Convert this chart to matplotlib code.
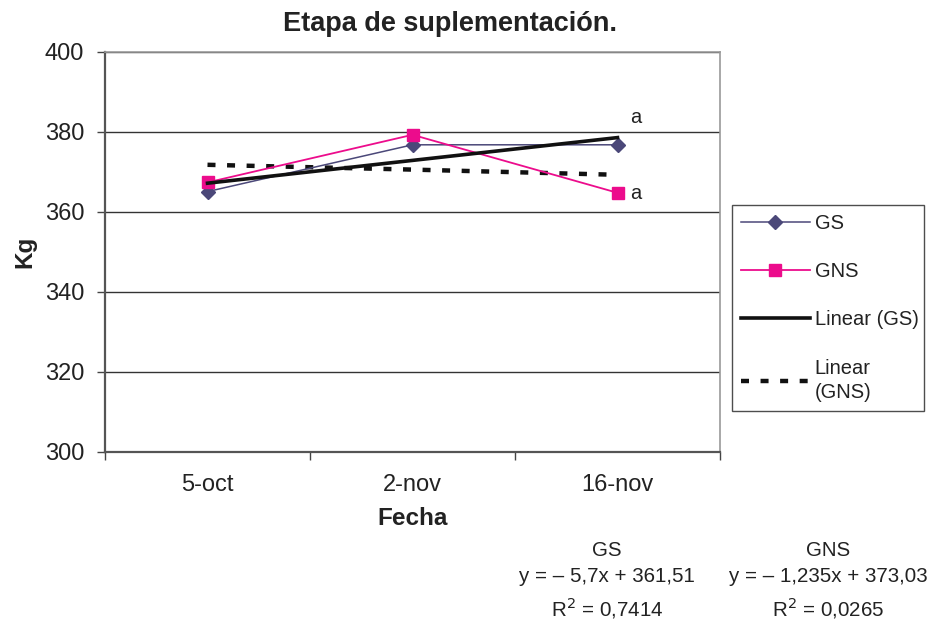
import matplotlib.pyplot as plt
from matplotlib.ticker import FixedLocator, NullFormatter

plt.rcParams['font.family'] = ['Liberation Sans', 'DejaVu Sans']

# data
fechas = ['5-oct', '2-nov', '16-nov']
gs = [365.1, 376.8, 376.8]
gns = [367.4, 379.3, 364.8]
linear_gs = [367.2, 372.9, 378.6]
linear_gns = [371.8, 370.6, 369.3]
y_ticks = [300, 320, 340, 360, 380, 400]

x = [1, 2, 3]

fig = plt.figure(figsize=(9.3, 6.21), dpi=100)
ax = fig.add_axes([105 / 930, 1 - 452 / 621, 615 / 930, 400 / 621])

ax.plot(x, gs, color='#4b4879', lw=1.1, marker='D', markersize=7,
        label='GS', zorder=4)
ax.plot(x, gns, color='#ec0c8c', lw=1.3, marker='s', markersize=9,
        label='GNS', zorder=4)
ax.plot(x, linear_gs, color='#111111', lw=2.6, label='Linear (GS)', zorder=5)
ax.plot(x, linear_gns, color='#111111', lw=3.2, linestyle=(0, (1.8, 2.6)),
        label='Linear\n(GNS)', zorder=3)

ax.set_xlim(0.5, 3.5)
ax.set_ylim(300, 400)
ax.set_yticks(y_ticks)
ax.yaxis.grid(True, color='#333333', lw=1)
ax.set_axisbelow(True)

# category boundaries carry the tick marks, centers carry the labels
ax.xaxis.set_major_locator(FixedLocator([0.5, 1.5, 2.5, 3.5]))
ax.xaxis.set_major_formatter(NullFormatter())
ax.xaxis.set_minor_locator(FixedLocator(x))
ax.set_xticklabels(fechas, minor=True)
ax.tick_params(axis='x', which='major', direction='out', length=6,
               width=1, color='#444444')
ax.tick_params(axis='x', which='minor', length=0, pad=16, labelsize=17,
               labelcolor='#222222')
ax.tick_params(axis='y', direction='out', length=6, width=1,
               color='#444444', pad=9, labelsize=17, labelcolor='#222222')

for side in ['left', 'bottom']:
    ax.spines[side].set_color('#555555')
    ax.spines[side].set_linewidth(1.6)
for side in ['top', 'right']:
    ax.spines[side].set_color('#999999')
    ax.spines[side].set_linewidth(1.2)

fig.text(450 / 930, 1 - 24 / 621, 'Etapa de suplementación.', fontsize=19.5,
         fontweight='bold', color='#222222', ha='center', va='center')
ax.set_xlabel('Fecha', fontsize=17.5, fontweight='bold', color='#222222',
              labelpad=8)
ax.set_ylabel('Kg', fontsize=17.5, fontweight='bold', color='#222222',
              labelpad=6)

ax.text(3.06, 381.3, 'a', fontsize=14.5, color='#222222', ha='left', va='bottom')
ax.text(3.06, 364.6, 'a', fontsize=14.5, color='#222222', ha='left', va='center')

leg = fig.legend(loc='upper left', bbox_to_anchor=(732 / 930, 1 - 205 / 621,
                                                    192 / 930, 0),
                 mode='expand', borderaxespad=0, fontsize=14.5,
                 handlelength=3.4, handletextpad=0.25, labelspacing=1.45,
                 fancybox=False, edgecolor='#222222', borderpad=0.45)
leg.get_frame().set_linewidth(1.0)
for t in leg.get_texts():
    t.set_color('#222222')
    t.set_linespacing(1.35)

fig.text(607 / 930, 1 - 581 / 621, 'GS\ny = – 5,7x + 361,51\nR$^2$ = 0,7414',
         ha='center', va='center', fontsize=14.8, color='#222222',
         linespacing=1.45)
fig.text(828 / 930, 1 - 581 / 621, 'GNS\ny = – 1,235x + 373,03\nR$^2$ = 0,0265',
         ha='center', va='center', fontsize=14.8, color='#222222',
         linespacing=1.45)

fig.savefig('out.png', dpi=100)
